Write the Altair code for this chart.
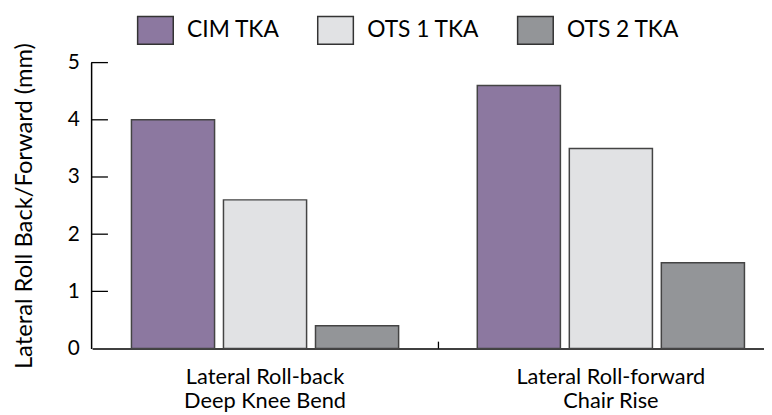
import altair as alt
import pandas as pd

# ---- data ----
groups = ["Lateral Roll-back|Deep Knee Bend", "Lateral Roll-forward|Chair Rise"]
series = ["CIM TKA", "OTS 1 TKA", "OTS 2 TKA"]
cim_tka = [4.0, 4.6]
ots1_tka = [2.6, 3.5]
ots2_tka = [0.4, 1.5]
y_ticks = [1, 2, 3, 4, 5]
colors = ["#8C78A0", "#E1E2E4", "#939598"]

rows = []
for name, vals in zip(series, [cim_tka, ots1_tka, ots2_tka]):
    for g, v in zip(groups, vals):
        rows.append({"group": g, "series": name, "value": v})
df = pd.DataFrame(rows)
tick_df = pd.DataFrame({"value": y_ticks})

FONT = "Lato"

y_axis = alt.Axis(
    values=[0, 1, 2, 3, 4, 5],
    ticks=False,
    grid=False,
    title="Lateral Roll Back/Forward (mm)",
    titleFont=FONT,
    titleFontSize=24,
    titleFontWeight="normal",
    titleColor="black",
    titlePadding=31,
    titleLimit=0,
    domainColor="black",
    domainWidth=1.5,
    labelFontSize=21,
    labelPadding=12,
    labelColor="black",
    labelFont=FONT,
)
y_scale = alt.Scale(domain=[0, 5], nice=False)

bars = alt.Chart(df).mark_bar(stroke="#444444", strokeWidth=1.5).encode(
    x=alt.X(
        "group:N",
        sort=groups,
        scale=alt.Scale(range=[1, 700], paddingInner=0.2275, paddingOuter=0.11375),
        axis=alt.Axis(
            title=None,
            labelExpr="split(datum.label, '|')",
            labelAngle=0,
            labelLimit=0,
            ticks=False,
            domainColor="black",
            domainWidth=1.5,
            labelFontSize=22,
            labelLineHeight=25,
            labelPadding=18,
            labelColor="black",
            labelFont=FONT,
        ),
    ),
    xOffset=alt.XOffset(
        "series:N", sort=series, scale=alt.Scale(paddingInner=0.0968, paddingOuter=0)
    ),
    y=alt.Y("value:Q", scale=y_scale, axis=y_axis),
    color=alt.Color(
        "series:N",
        sort=series,
        scale=alt.Scale(domain=series, range=colors),
        legend=alt.Legend(
            title=None,
            orient="none",
            direction="horizontal",
            legendX=46,
            legendY=-52,
            symbolType="M-1,-0.78L1,-0.78L1,0.78L-1,0.78Z",
            symbolSize=1296,
            symbolStrokeColor="#333333",
            symbolStrokeWidth=1.5,
            symbolOpacity=1,
            labelFontSize=23,
            labelFont=FONT,
            labelColor="black",
            labelOffset=13,
            columnPadding=35,
        ),
    ),
)

yticks = alt.Chart(tick_df).mark_rule(color="black", strokeWidth=1.3).encode(
    y=alt.Y("value:Q", scale=y_scale, axis=y_axis),
    x=alt.value(0),
    x2=alt.value(17),
)

xtick = alt.Chart(pd.DataFrame({"k": [0]})).mark_rule(color="black", strokeWidth=1.3).encode(
    x=alt.value(351), y=alt.value(289), y2=alt.value(282)
)

chart = (
    alt.layer(bars, yticks, xtick)
    .properties(
        width=678,
        height=289,
        autosize=alt.AutoSizeParams(type="none"),
        padding={"left": 84, "top": 53, "right": 2, "bottom": 70},
    )
    .configure_view(stroke=None)
)

chart.save("out.html", embed_options={"renderer": "svg", "actions": False})
